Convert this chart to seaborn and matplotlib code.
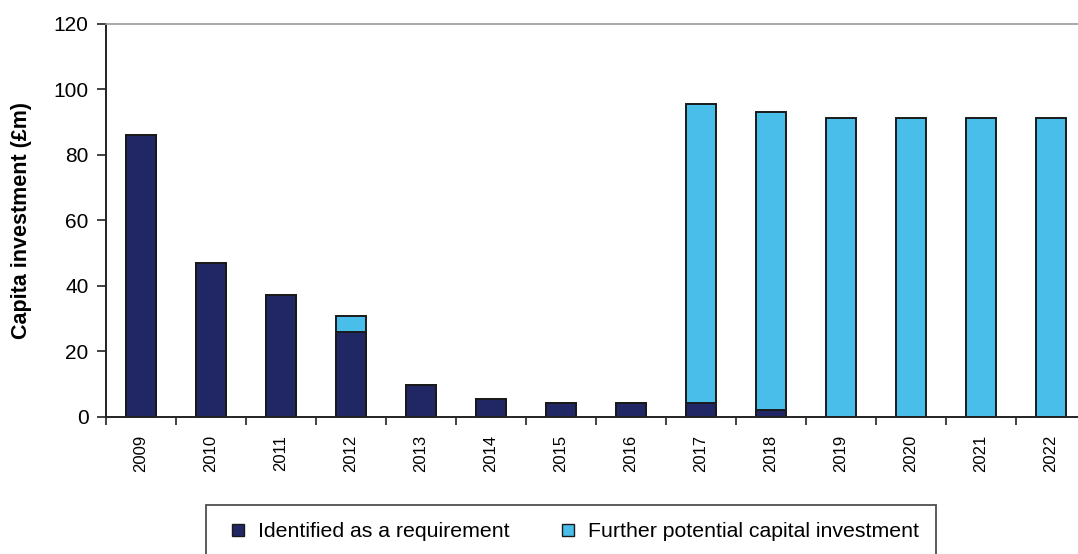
import matplotlib
matplotlib.use("Agg")
import matplotlib.pyplot as plt
from matplotlib.lines import Line2D
import seaborn as sns
import pandas as pd

# =============================
# DATA
# =============================
years = ["2009", "2010", "2011", "2012", "2013", "2014", "2015",
         "2016", "2017", "2018", "2019", "2020", "2021", "2022"]
identified = [86.0, 47.0, 37.1, 26.1, 9.7, 5.5, 4.3,
              4.3, 4.3, 2.0, 0.0, 0.0, 0.0, 0.0]
further = [0.0, 0.0, 0.0, 4.6, 0.0, 0.0, 0.0,
           0.0, 91.4, 91.0, 91.3, 91.3, 91.3, 91.3]
y_ticks = [0, 20, 40, 60, 80, 100, 120]

navy = "#212764"
cyan = "#4ABEEA"

df = pd.DataFrame({"year": years, "identified": identified, "further": further})
df["total"] = df["identified"] + df["further"]

sns.set_style("white")
plt.rcParams["font.family"] = ["Liberation Sans", "DejaVu Sans"]
plt.rcParams["text.color"] = "black"
plt.rcParams["axes.labelcolor"] = "black"
plt.rcParams["xtick.color"] = "black"
plt.rcParams["ytick.color"] = "black"

fig = plt.figure(figsize=(10.78, 5.54), dpi=100)
ax = fig.add_axes([0.0983, 0.2473, 0.9091, 0.7094])

# total first (cyan), then the identified part drawn over it
sns.barplot(data=df, x="year", y="total", color=cyan, width=0.43,
            edgecolor="#1a1a1a", linewidth=1.4, saturation=1, ax=ax)
sns.barplot(data=df, x="year", y="identified", color=navy, width=0.43,
            edgecolor="#1a1a1a", linewidth=1.4, saturation=1, ax=ax)

ax.set_xlim(-0.5, len(years) - 0.5)
ax.set_ylim(0, 120)
ax.set_yticks(y_ticks)
ax.set_yticklabels([str(v) for v in y_ticks], fontsize=15)

# labels at bar centres, tick marks at category boundaries
ax.set_xticks(range(len(years)))
ax.set_xticklabels(years, rotation=90, fontsize=12)
ax.tick_params(axis="x", which="major", length=0, pad=13)
ax.set_xticks([i - 0.5 for i in range(len(years) + 1)], minor=True)
ax.tick_params(axis="x", which="minor", length=6, width=1.2, color="#222222",
               direction="out", bottom=True)
ax.tick_params(axis="y", length=6.5, width=1.2, color="#222222", pad=6, left=True)

ax.set_xlabel("")
ax.set_ylabel("Capita investment (£m)", fontsize=15.5, fontweight="bold")
ax.yaxis.set_label_coords(-0.0755, 0.5)

for side in ["left", "bottom"]:
    ax.spines[side].set_color("#222222")
    ax.spines[side].set_linewidth(1.4)
ax.spines["top"].set_color("#999999")
ax.spines["top"].set_linewidth(1.2)
ax.spines["right"].set_visible(False)

handles = [Line2D([], [], ls="none", marker="s", markersize=8,
                  markerfacecolor=navy, markeredgecolor="#1a1a1a", markeredgewidth=1),
           Line2D([], [], ls="none", marker="s", markersize=8,
                  markerfacecolor=cyan, markeredgecolor="#1a1a1a", markeredgewidth=1)]
leg = fig.legend(handles, ["Identified as a requirement", "Further potential capital investment"],
                 loc="upper left", bbox_to_anchor=(206 / 1078, 1 - 505 / 554),
                 ncol=2, frameon=True, fancybox=False, fontsize=15.3,
                 handlelength=1.4, handletextpad=0.25,
                 columnspacing=2.05, borderpad=0.8, borderaxespad=0)
leg.get_frame().set_edgecolor("#222222")
leg.get_frame().set_linewidth(1.3)

fig.savefig("out.png", dpi=100)
